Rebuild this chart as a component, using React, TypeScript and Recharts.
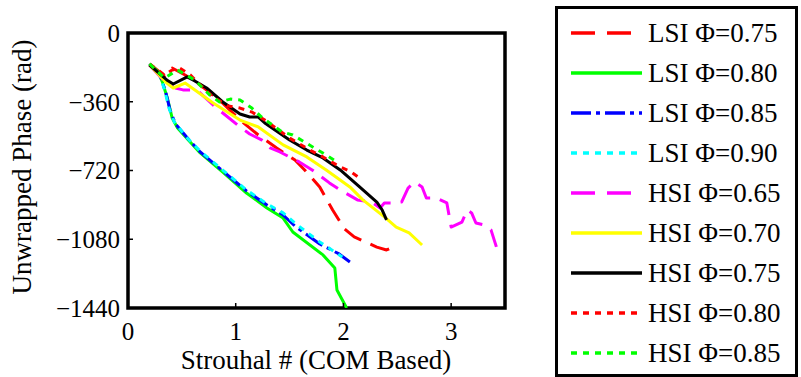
import React from 'react';
import { LineChart, Line, XAxis, YAxis, ReferenceArea, Label } from 'recharts';

// Strouhal # vs unwrapped phase (rad)
const X_TICKS = [0, 1, 2, 3];
const Y_TICKS = [0, -360, -720, -1080, -1440];

const LSI_075: [number, number][] = [
  [0.2, -162], [0.34, -225], [0.41, -183], [0.53, -220], [0.67, -272], [0.85, -351],
  [1.04, -456], [1.21, -534], [1.38, -602], [1.55, -665], [1.64, -717], [1.78, -806],
  [1.9, -927], [2.01, -1026], [2.1, -1068], [2.31, -1121], [2.4, -1136], [2.46, -1121],
];
const LSI_080: [number, number][] = [
  [0.2, -162], [0.28, -204], [0.32, -257], [0.37, -351], [0.41, -445], [0.46, -497],
  [0.56, -560], [0.67, -628], [0.88, -728], [1.1, -838], [1.29, -916], [1.44, -969],
  [1.53, -1042], [1.81, -1162], [1.92, -1230], [1.94, -1346], [2.03, -1440],
];
const LSI_085: [number, number][] = [
  [0.2, -162], [0.3, -225], [0.35, -309], [0.39, -403], [0.44, -476], [0.56, -555],
  [0.67, -623], [0.88, -723], [1.1, -827], [1.29, -901], [1.44, -953], [1.55, -1011],
  [1.78, -1105], [1.96, -1157], [2.06, -1199],
];
const LSI_090: [number, number][] = [
  [0.2, -162], [0.29, -215], [0.34, -298], [0.38, -393], [0.43, -466], [0.55, -550],
  [0.67, -618], [0.88, -718], [1.1, -822], [1.29, -895], [1.44, -942], [1.56, -1000],
  [1.78, -1094], [1.99, -1173],
];
const HSI_065: [number, number][] = [
  [0.2, -168], [0.36, -267], [0.44, -288], [0.51, -298], [0.64, -298], [0.79, -377],
  [0.88, -419], [1.04, -492], [1.13, -529], [1.24, -560], [1.32, -602], [1.41, -623],
  [1.59, -675], [1.71, -717], [1.87, -785], [1.97, -822], [2.13, -874], [2.26, -885],
  [2.34, -916], [2.38, -890], [2.46, -890], [2.54, -885], [2.6, -812], [2.66, -780],
  [2.73, -806], [2.77, -864], [2.86, -864], [2.96, -890], [2.98, -953], [3.0, -1016],
  [3.1, -990], [3.15, -927], [3.19, -942], [3.23, -995], [3.31, -1005], [3.37, -1031],
  [3.42, -1120],
];
const HSI_070: [number, number][] = [
  [0.2, -168], [0.36, -262], [0.42, -288], [0.53, -262], [0.79, -367], [1.04, -456],
  [1.21, -492], [1.44, -586], [1.66, -649], [1.84, -717], [2.06, -806], [2.18, -874],
  [2.38, -963], [2.49, -1016], [2.61, -1047], [2.73, -1110],
];
const HSI_075: [number, number][] = [
  [0.2, -168], [0.36, -246], [0.42, -267], [0.55, -230], [0.62, -251], [0.73, -288],
  [0.88, -361], [1.04, -424], [1.13, -440], [1.21, -440], [1.27, -471], [1.5, -560],
  [1.66, -613], [1.81, -654], [1.97, -717], [2.15, -806], [2.31, -885], [2.36, -927],
  [2.4, -979],
];
const HSI_080: [number, number][] = [
  [0.2, -162], [0.34, -220], [0.41, -194], [0.48, -183], [0.58, -220], [0.67, -272],
  [0.79, -335], [0.93, -382], [1.04, -393], [1.15, -414], [1.27, -456], [1.5, -550],
  [1.69, -613], [1.81, -649], [1.97, -702], [2.06, -723], [2.15, -759],
];
const HSI_085: [number, number][] = [
  [0.2, -162], [0.34, -236], [0.46, -194], [0.62, -246], [0.76, -325], [0.85, -361],
  [0.95, -346], [1.04, -351], [1.15, -393], [1.24, -440], [1.43, -518], [1.53, -534],
  [1.64, -571], [1.73, -602], [1.84, -639], [1.94, -675],
];

const SERIES = [
  { name: 'LSI Φ=0.75', points: LSI_075, color: '#ff0000', dash: '20 10' },
  { name: 'LSI Φ=0.80', points: LSI_080, color: '#00ff00', dash: undefined },
  { name: 'LSI Φ=0.85', points: LSI_085, color: '#0000ff', dash: '20 5 4 5' },
  { name: 'LSI Φ=0.90', points: LSI_090, color: '#00ffff', dash: '6 6' },
  { name: 'HSI Φ=0.65', points: HSI_065, color: '#ff00ff', dash: '20 10' },
  { name: 'HSI Φ=0.70', points: HSI_070, color: '#ffff00', dash: undefined },
  { name: 'HSI Φ=0.75', points: HSI_075, color: '#000000', dash: undefined },
  { name: 'HSI Φ=0.80', points: HSI_080, color: '#ff0000', dash: '6 6' },
  { name: 'HSI Φ=0.85', points: HSI_085, color: '#00ff00', dash: '6 6' },
];

const FONT = 'Liberation Serif, DejaVu Serif, Tinos, Times New Roman, Times, serif';

const fmtTick = (v: number) => (v < 0 ? `\u2212${-v}` : `${v}`);

const App = () => {
  return (
    <div style={{ position: 'absolute', left: 0, top: 0, width: 801, height: 377, background: '#fff', fontFamily: FONT }}>
      <LineChart width={801} height={377} margin={{ top: 33, right: 296, bottom: 9, left: 68 }} style={{ fontFamily: FONT }}>
        <XAxis
          type="number"
          dataKey="x"
          domain={[0, 3.5]}
          ticks={X_TICKS}
          allowDataOverflow
          height={60}
          axisLine={false}
          tickLine={{ stroke: '#000', strokeWidth: 1.5 }}
          tickSize={-5}
          tickMargin={19}
          tick={{ fill: '#000', fontSize: 25, fontFamily: FONT }}
        >
          <Label
            content={() => (
              <text x={316} y={369} textAnchor="middle" fontSize={27} style={{ fontFamily: FONT }} fill="#000">
                Strouhal # (COM Based)
              </text>
            )}
          />
        </XAxis>
        <YAxis
          type="number"
          domain={[-1440, 0]}
          ticks={Y_TICKS}
          allowDataOverflow
          width={60}
          axisLine={false}
          tickLine={{ stroke: '#000', strokeWidth: 1.5 }}
          tickSize={-5}
          tickMargin={13}
          tickFormatter={fmtTick}
          tick={{ fill: '#000', fontSize: 25, fontFamily: FONT }}
        >
          <Label
            content={() => (
              <text x={31} y={167} textAnchor="middle" fontSize={27} style={{ fontFamily: FONT }} fill="#000" transform="rotate(-90, 31, 167)">
                Unwrapped Phase (rad)
              </text>
            )}
          />
        </YAxis>
        {SERIES.map((s) => (
          <Line
            key={s.name}
            name={s.name}
            data={s.points.map(([x, y]) => ({ x, y }))}
            dataKey="y"
            type="linear"
            stroke={s.color}
            strokeWidth={3}
            strokeDasharray={s.dash}
            strokeLinejoin="round"
            dot={false}
            activeDot={false}
            isAnimationActive={false}
          />
        ))}
        <ReferenceArea x1={0} x2={3.5} y1={-1440} y2={0} fill="none" stroke="#000" strokeWidth={3.5} />
      </LineChart>

      {/* legend box */}
      <div
        style={{
          position: 'absolute',
          left: 555,
          top: 6,
          width: 243,
          height: 371,
          boxSizing: 'border-box',
          border: '3px solid #000',
          paddingTop: 4,
        }}
      >
        {SERIES.map((s) => (
          <div key={s.name} style={{ display: 'flex', alignItems: 'center', height: 40 }}>
            <svg width={71} height={10} style={{ marginLeft: 13, marginRight: 6 }}>
              <line x1={0} y1={5} x2={71} y2={5} stroke={s.color} strokeWidth={3.5} strokeDasharray={s.dash === '20 10' ? '24 12' : s.dash} />
            </svg>
            <span style={{ fontSize: 27, lineHeight: '40px', color: '#000', whiteSpace: 'nowrap' }}>{s.name}</span>
          </div>
        ))}
      </div>
    </div>
  );
};

export default App;
